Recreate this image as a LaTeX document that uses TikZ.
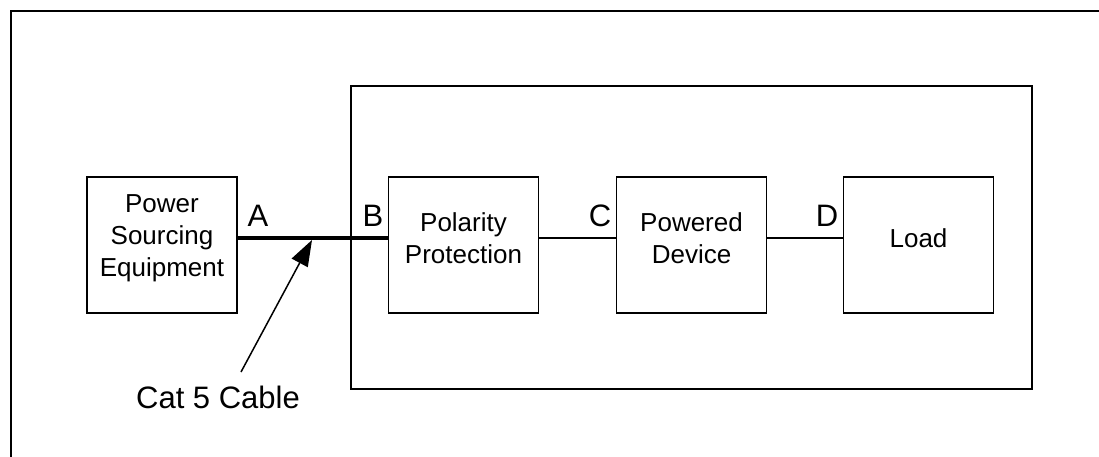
\documentclass[tikz,border=0pt]{standalone}
\usepackage{fontspec}
\setmainfont{Liberation Sans}
\usetikzlibrary{arrows.meta}
\begin{document}
\begin{tikzpicture}[x=1pt,y=-1pt,
  blk/.style={draw, line width=1.5pt, minimum width=150pt, minimum height=136pt, inner sep=0pt},
  blktext/.style={align=center, font=\fontsize{26}{32}\selectfont, inner sep=0pt},
  lbl/.style={font=\fontsize{31}{36}\selectfont, inner sep=0pt},
  wire/.style={line width=1.5pt},
  cable/.style={line width=4.5pt}]
\useasboundingbox (0,0) rectangle (1099,457);
% outer frame (cut off at right and bottom)
\coordinate (fbl) at (11,460);
\coordinate (ftl) at (11,11);
\coordinate (ftr) at (1102,11);
\draw[line width=2.5pt] (fbl) -- (ftl) -- (ftr);
% inner enclosure
\node[draw, line width=2pt, minimum width=681pt, minimum height=303pt, inner sep=0pt] (pdbox) at (691.5,237.5) {};
% blocks
\node[blk] (pse) at (162,245) {};
\node[blk] (pol) at (463.5,245) {};
\node[blk] (pd) at (691.5,245) {};
\node[blk] (load) at (918.5,245) {};
\node[blktext] (pset) at (162,238) {Power\\Sourcing\\Equipment};
\node[blktext] (polt) at (463.5,238) {Polarity\\Protection};
\node[blktext] (pdt) at (691.5,238) {Powered\\Device};
\node[blktext] (loadt) at (918.5,238) {Load};
% connections
\coordinate (psep) at (pse.east |- 0,238);
\coordinate (polin) at (pol.west |- 0,238);
\coordinate (polout) at (pol.east |- 0,238);
\coordinate (pdin) at (pd.west |- 0,238);
\coordinate (pdout) at (pd.east |- 0,238);
\coordinate (loadin) at (load.west |- 0,238);
\draw[cable] (psep) -- (polin);
\draw[wire] (polout) -- (pdin);
\draw[wire] (pdout) -- (loadin);
% labels
\node[lbl] (la) at (258,216) {A};
\node[lbl] (lb) at (373,216) {B};
\node[lbl] (lc) at (600,216) {C};
\node[lbl] (ld) at (827,216) {D};
% cable callout
\node[lbl] (cat) at (218,397) {Cat 5 Cable};
\coordinate (tail) at (241,372);
\coordinate (tip) at (312,240);
\draw[line width=1.5pt, -{Triangle[length=26pt, width=18pt]}] (tail) -- (tip);
\end{tikzpicture}
\end{document}
